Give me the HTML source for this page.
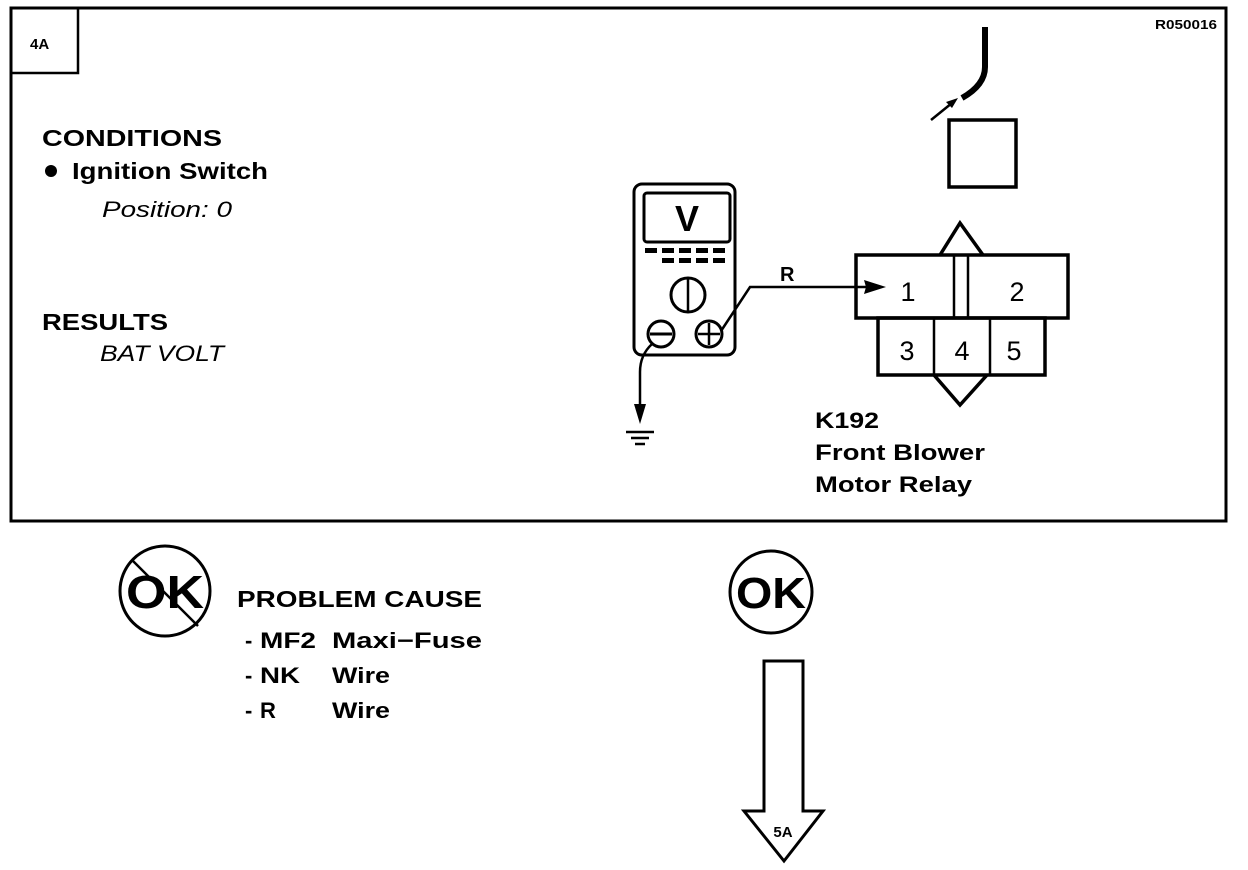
<!DOCTYPE html>
<html><head><meta charset="utf-8"><style>
html,body{margin:0;padding:0;background:#fff;}
svg{display:block;}
text{font-family:"Liberation Sans",Arial,sans-serif;fill:#000;}
.b{font-weight:bold;}
</style></head><body>
<svg width="1248" height="870" viewBox="0 0 1248 870" xmlns="http://www.w3.org/2000/svg">
<rect x="0" y="0" width="1248" height="870" fill="#fff"/>
<rect x="11" y="8" width="1215" height="513" fill="none" stroke="#000" stroke-width="3"/>
<path d="M11 73 H78 V8" fill="none" stroke="#000" stroke-width="2.5"/>
<text x="30" y="49" class="b" font-size="15">4A</text>
<text x="1155" y="29" class="b" font-size="13" textLength="62" lengthAdjust="spacingAndGlyphs">R050016</text>

<text x="42" y="146" class="b" font-size="23" textLength="180" lengthAdjust="spacingAndGlyphs">CONDITIONS</text>
<circle cx="51" cy="171" r="6" fill="#000"/>
<text x="72" y="179" class="b" font-size="23" textLength="196" lengthAdjust="spacingAndGlyphs">Ignition Switch</text>
<text x="102" y="217" font-style="italic" font-size="22" textLength="130" lengthAdjust="spacingAndGlyphs">Position: 0</text>
<text x="42" y="330" class="b" font-size="23" textLength="126" lengthAdjust="spacingAndGlyphs">RESULTS</text>
<text x="100" y="361" font-style="italic" font-size="22" textLength="124" lengthAdjust="spacingAndGlyphs">BAT VOLT</text>

<rect x="634" y="184" width="101" height="171" rx="8" fill="none" stroke="#000" stroke-width="3"/>
<rect x="644" y="193" width="86" height="49" rx="3" fill="none" stroke="#000" stroke-width="3"/>
<text x="687" y="231" text-anchor="middle" class="b" font-size="36">V</text>
<g fill="#000">
<rect x="645" y="248" width="12" height="5"/><rect x="662" y="248" width="12" height="5"/><rect x="679" y="248" width="12" height="5"/><rect x="696" y="248" width="12" height="5"/><rect x="713" y="248" width="12" height="5"/>
<rect x="662" y="258" width="12" height="5"/><rect x="679" y="258" width="12" height="5"/><rect x="696" y="258" width="12" height="5"/><rect x="713" y="258" width="12" height="5"/>
</g>
<circle cx="688" cy="295" r="17" fill="none" stroke="#000" stroke-width="3"/>
<line x1="688" y1="278" x2="688" y2="312" stroke="#000" stroke-width="2.5"/>
<circle cx="661" cy="334" r="13" fill="none" stroke="#000" stroke-width="3"/>
<line x1="650" y1="334" x2="672" y2="334" stroke="#000" stroke-width="3"/>
<circle cx="709" cy="334" r="13" fill="none" stroke="#000" stroke-width="3"/>
<line x1="698" y1="334" x2="720" y2="334" stroke="#000" stroke-width="2.5"/>
<line x1="709" y1="323" x2="709" y2="345" stroke="#000" stroke-width="2.5"/>
<path d="M721 331 L750 287 H870" fill="none" stroke="#000" stroke-width="2.5"/>
<polygon points="886,287 864,280 866,287 864,294" fill="#000"/>
<text x="780" y="281" class="b" font-size="20">R</text>
<path d="M652 344 Q640 355 640 372 V415" fill="none" stroke="#000" stroke-width="2.5"/>
<polygon points="640,424 634,404 646,404" fill="#000"/>
<line x1="626" y1="432" x2="654" y2="432" stroke="#000" stroke-width="2.5"/>
<line x1="631" y1="438" x2="649" y2="438" stroke="#000" stroke-width="2.5"/>
<line x1="635" y1="444" x2="645" y2="444" stroke="#000" stroke-width="2.5"/>

<path d="M985 27 V67 Q985 85 962 98" fill="none" stroke="#000" stroke-width="6"/>
<line x1="931" y1="120" x2="952" y2="103" stroke="#000" stroke-width="2.5"/>
<polygon points="958,98 946,102 952,108" fill="#000"/>
<rect x="949" y="120" width="67" height="67" fill="none" stroke="#000" stroke-width="3.5"/>

<polyline points="940,255 960,223 983,255" fill="none" stroke="#000" stroke-width="3.5"/>
<rect x="856" y="255" width="212" height="63" fill="none" stroke="#000" stroke-width="3.5"/>
<line x1="954" y1="256" x2="954" y2="317" stroke="#000" stroke-width="2.5"/>
<line x1="968" y1="256" x2="968" y2="317" stroke="#000" stroke-width="2.5"/>
<rect x="878" y="318" width="167" height="57" fill="none" stroke="#000" stroke-width="3.5"/>
<line x1="934" y1="318" x2="934" y2="375" stroke="#000" stroke-width="2.5"/>
<line x1="990" y1="318" x2="990" y2="375" stroke="#000" stroke-width="2.5"/>
<polyline points="934,375 960,405 987,375" fill="none" stroke="#000" stroke-width="3.5"/>
<g font-size="27" text-anchor="middle">
<text x="908" y="301">1</text><text x="1017" y="301">2</text>
<text x="907" y="360">3</text><text x="962" y="360">4</text><text x="1014" y="360">5</text>
</g>
<text x="815" y="428" class="b" font-size="22" textLength="64" lengthAdjust="spacingAndGlyphs">K192</text>
<text x="815" y="460" class="b" font-size="22" textLength="170" lengthAdjust="spacingAndGlyphs">Front Blower</text>
<text x="815" y="492" class="b" font-size="22" textLength="157" lengthAdjust="spacingAndGlyphs">Motor Relay</text>

<circle cx="165" cy="591" r="45" fill="none" stroke="#000" stroke-width="3"/>
<text x="165" y="608" text-anchor="middle" class="b" font-size="46" textLength="78" lengthAdjust="spacingAndGlyphs">OK</text>
<line x1="132" y1="560" x2="198" y2="626" stroke="#000" stroke-width="2.5"/>
<text x="237" y="607" class="b" font-size="23" textLength="245" lengthAdjust="spacingAndGlyphs">PROBLEM CAUSE</text>
<g class="b" font-size="22">
<text x="245" y="648">-</text><text x="260" y="648" textLength="56" lengthAdjust="spacingAndGlyphs">MF2</text><text x="332" y="648" textLength="150" lengthAdjust="spacingAndGlyphs">Maxi−Fuse</text>
<text x="245" y="683">-</text><text x="260" y="683" textLength="40" lengthAdjust="spacingAndGlyphs">NK</text><text x="332" y="683" textLength="58" lengthAdjust="spacingAndGlyphs">Wire</text>
<text x="245" y="718">-</text><text x="260" y="718">R</text><text x="332" y="718" textLength="58" lengthAdjust="spacingAndGlyphs">Wire</text>
</g>

<circle cx="771" cy="592" r="41" fill="none" stroke="#000" stroke-width="3"/>
<text x="771" y="608" text-anchor="middle" class="b" font-size="44" textLength="70" lengthAdjust="spacingAndGlyphs">OK</text>
<polygon points="764,661 803,661 803,811 823,811 784,861 744,811 764,811" fill="none" stroke="#000" stroke-width="3"/>
<text x="783" y="837" text-anchor="middle" class="b" font-size="15">5A</text>
</svg>
</body></html>
